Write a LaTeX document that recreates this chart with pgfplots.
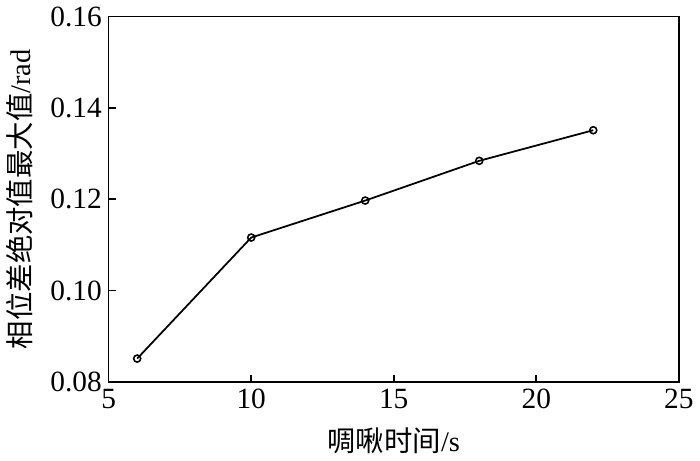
\documentclass[border=0pt]{standalone}
\usepackage{fontspec}
\setmainfont{Liberation Serif}
\newfontfamily\cjk{Noto Sans CJK SC}
\usepackage{pgfplots}
\pgfplotsset{compat=1.18}

\begin{document}
\begin{tikzpicture}
\begin{axis}[
scale only axis,
width=291pt,
height=186.5pt,
xmin=5, xmax=25,
ymin=0.08, ymax=0.16,
xtick={5,10,15,20,25},
ytick={0.08,0.10,0.12,0.14,0.16},
tick pos=left,
tick align=inside,
major tick length=3.5pt,
axis line style={line width=0.8pt},
every tick/.style={black, line width=0.8pt},
/pgf/number format/assume math mode=true,
yticklabel style={/pgf/number format/.cd, fixed, zerofill, precision=2},
tick label style={font=\fontsize{15}{17}\selectfont},
label style={font=\fontsize{14.5}{17}\selectfont},
xlabel={{\cjk 啁啾时间}/s},
ylabel={{\cjk 相位差绝对值最大值}/rad},
xlabel style={yshift=-3pt},
ylabel style={yshift=2pt},
]
\addplot[black, line width=0.9pt, mark=o, mark size=1.8pt, mark options={line width=0.8pt}] coordinates {
(6,0.0851) (10,0.1116) (14,0.1197) (18,0.1284) (22,0.1351)
};
\end{axis}
\end{tikzpicture}
\end{document}
